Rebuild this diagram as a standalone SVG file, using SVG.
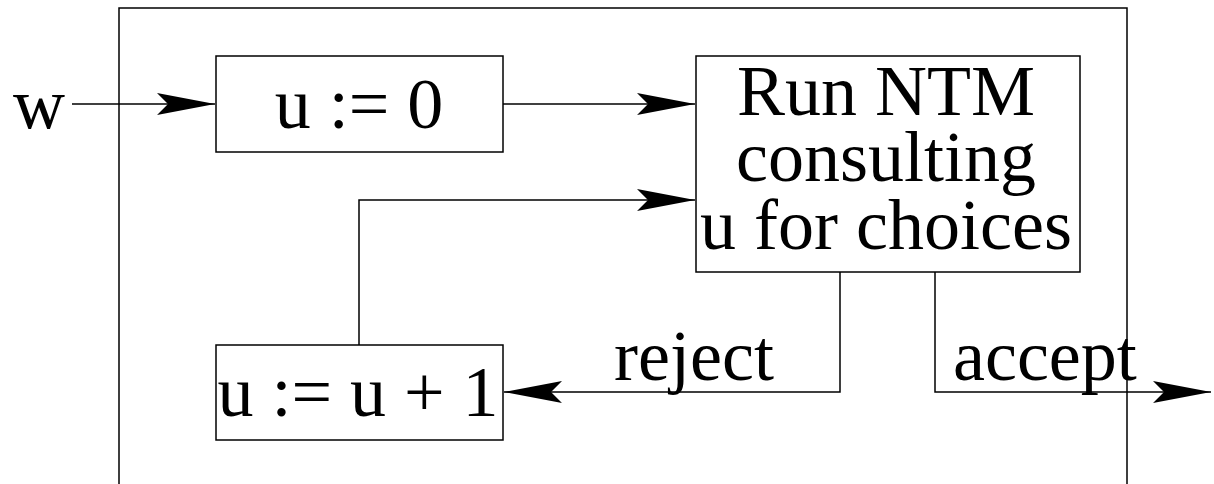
<svg xmlns="http://www.w3.org/2000/svg" width="1214" height="484" viewBox="0 0 1214 484">
<style>
.box{fill:none;stroke:#000;stroke-width:1.5}
.ln{fill:none;stroke:#000;stroke-width:1.5}
text{font-family:"Liberation Serif","Times New Roman",serif;font-size:72px;fill:#000}
.c{text-anchor:middle}
</style>
<defs>
<marker id="ah" markerUnits="userSpaceOnUse" viewBox="-60 -12 62 24" refX="0" refY="0" markerWidth="62" markerHeight="24" orient="auto" overflow="visible">
<path d="M0,0 L-58,-11 L-47,0 L-58,11 Z" fill="#000"/>
</marker>
</defs>
<rect width="1214" height="484" fill="#fff"/>
<g id="frame">
<path class="ln" d="M119,484 V8 H1127 V484"/>
</g>
<g id="connectors">
<path class="ln" d="M72,104 H215" marker-end="url(#ah)"/>
<path class="ln" d="M503,104 H695" marker-end="url(#ah)"/>
<path class="ln" d="M359,345 V200 H695" marker-end="url(#ah)"/>
<path class="ln" d="M840,272 V392 H504" marker-end="url(#ah)"/>
<path class="ln" d="M935,272 V392 H1211" marker-end="url(#ah)"/>
</g>
<g id="input"><text x="13" y="128">w</text></g>
<g id="init">
<rect class="box" x="216" y="56" width="287" height="96"/>
<text class="c" x="359" y="128">u := 0</text>
</g>
<g id="run">
<rect class="box" x="696" y="56" width="384" height="216"/>
<text class="c" x="886" y="115">Run NTM</text>
<text class="c" x="886" y="181">consulting</text>
<text class="c" x="886" y="249">u for choices</text>
</g>
<g id="incr">
<rect class="box" x="216" y="345" width="287" height="95"/>
<text class="c" x="358" y="416">u := u + 1</text>
</g>
<g id="labels">
<text class="c" x="694" y="380">reject</text>
<text x="953" y="380">accept</text>
</g>
</svg>
